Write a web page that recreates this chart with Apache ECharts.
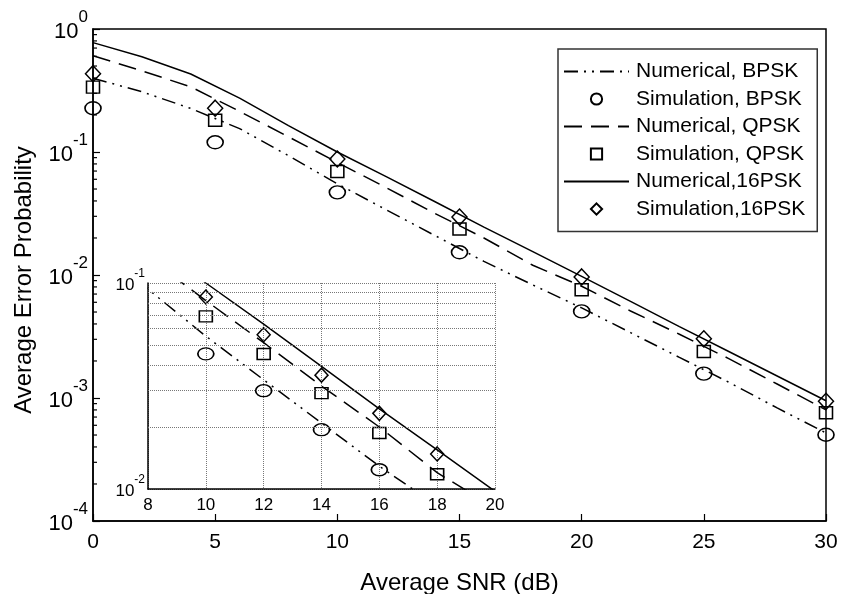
<!DOCTYPE html>
<html><head><meta charset="utf-8">
<script src="https://cdn.jsdelivr.net/npm/echarts@6/dist/echarts.min.js"></script>
<style>html,body{margin:0;padding:0;background:#fff}#c{width:843px;height:594px}</style>
</head><body><div id="c"></div>
<script>
// ---- data ----
const snrLine = [0, 2, 4, 6, 8, 10, 12, 14, 16, 18, 20, 22, 24, 26, 28, 30];
const numBPSK  = [0.398, 0.309, 0.226, 0.155, 0.0933, 0.0552, 0.0339, 0.0209, 0.0129, 0.0083, 0.0054, 0.0034, 0.00214, 0.00135, 0.00083, 0.00052];
const numQPSK  = [0.607, 0.457, 0.339, 0.214, 0.133, 0.0822, 0.0513, 0.0316, 0.0200, 0.0120, 0.0081, 0.0051, 0.0033, 0.0021, 0.0013, 0.0008];
const num16PSK = [0.775, 0.594, 0.431, 0.274, 0.164, 0.100, 0.0631, 0.0394, 0.0245, 0.0155, 0.00975, 0.0061, 0.0038, 0.0024, 0.00151, 0.00095];

const snrSim   = [0, 5, 10, 15, 20, 25, 30];
const simBPSK  = [0.227, 0.120, 0.047, 0.0153, 0.00506, 0.00158, 0.000503];
const simQPSK  = [0.337, 0.181, 0.0695, 0.0237, 0.0076, 0.00239, 0.00076];
const sim16PSK = [0.433, 0.227, 0.0877, 0.0296, 0.00964, 0.00303, 0.00094];

const snrInset    = [10, 12, 14, 16, 18];
const insetBPSK   = [0.0453, 0.0300, 0.0194, 0.0124];
const insetQPSK   = [0.0689, 0.0452, 0.0292, 0.0187, 0.0118];
const inset16PSK  = [0.0855, 0.0561, 0.0357, 0.0233, 0.0148];

const seriesNames = ['Numerical, BPSK', 'Simulation, BPSK', 'Numerical, QPSK', 'Simulation, QPSK', 'Numerical,16PSK', 'Simulation,16PSK'];
const insetMinorGrid = [0.02, 0.03, 0.04, 0.05, 0.06, 0.07, 0.08, 0.09];

// ---- helpers ----
const FONT = 'Liberation Sans, Arial, sans-serif';
const zip = (xs, ys) => ys.map((y, i) => [xs[i], y]);
const minorTicks = [];
[1e-4, 1e-3, 1e-2, 1e-1].forEach(d => { for (let k = 2; k <= 9; k++) minorTicks.push(+(d * k).toPrecision(3)); });
const ELLIPSE = 'path://M0,50A50,50,0,1,1,100,50A50,50,0,1,1,0,50Z';
const dashDotDot = [14, 6, 2, 6, 2, 6];
const dashed = [18, 9];
const expLabel = v => '{b|10}{s|' + Math.round(Math.log10(v)) + '}';
const hollow = {color: 'rgba(0,0,0,0)', borderColor: '#000', borderWidth: 1.5};
const noLine = {width: 0, opacity: 0};

function lineSeries(name, data, type, xi) {
  return {name, type: 'line', data, xAxisIndex: xi, yAxisIndex: xi, symbol: 'none', showSymbol: false,
    lineStyle: {color: '#000', width: 1.5, type}, itemStyle: {color: 'rgba(0,0,0,0)', borderWidth: 0, opacity: 0}, z: 3, clip: true};
}
function simSeries(name, data, symbol, size, xi) {
  return {name, type: 'line', data, xAxisIndex: xi, yAxisIndex: xi, symbol, symbolSize: size,
    showSymbol: true, lineStyle: noLine, itemStyle: hollow, z: 4, clip: true};
}

const chart = echarts.init(document.getElementById('c'), null, {renderer: 'canvas'});
chart.setOption({
  animation: false,
  backgroundColor: '#fff',
  textStyle: {fontFamily: FONT, color: '#000'},
  grid: [
    {left: 93, top: 29, width: 733, height: 492, show: true, borderColor: '#000', borderWidth: 1.5, backgroundColor: '#fff', outerBoundsMode: 'none', containLabel: false},
    {left: 148, top: 283, width: 347, height: 206, show: true, borderWidth: 0, backgroundColor: '#fff', outerBoundsMode: 'none', containLabel: false}
  ],
  xAxis: [
    {type: 'value', gridIndex: 0, min: 0, max: 30, interval: 5,
      name: 'Average SNR (dB)', nameLocation: 'middle', nameGap: 50,
      nameTextStyle: {fontSize: 24, fontFamily: FONT, color: '#000'},
      axisLine: {lineStyle: {color: '#000', width: 1.5}},
      axisTick: {inside: true, length: 7, lineStyle: {color: '#000', width: 1.2}},
      axisLabel: {fontSize: 21, color: '#000', margin: 11, fontFamily: FONT},
      splitLine: {show: false}},
    {type: 'value', gridIndex: 1, min: 8, max: 20, interval: 2,
      axisLine: {lineStyle: {color: '#000', width: 1.5}},
      axisTick: {show: false},
      axisLabel: {fontSize: 17, color: '#000', margin: 8, fontFamily: FONT},
      splitLine: {show: true, lineStyle: {color: '#777', width: 1, type: [1, 1]}}}
  ],
  yAxis: [
    {type: 'log', logBase: 10, gridIndex: 0, min: 1e-4, max: 1,
      name: 'Average Error Probability', nameLocation: 'middle', nameGap: 57,
      nameTextStyle: {fontSize: 24, fontFamily: FONT, color: '#000', padding: [0, 10, 0, 0]},
      axisLine: {lineStyle: {color: '#000', width: 1.5}},
      axisTick: {inside: true, length: 7, lineStyle: {color: '#000', width: 1.2}},
      axisLabel: {margin: 5, formatter: expLabel, rich: {
        b: {fontSize: 22, fontFamily: FONT, color: '#000', lineHeight: 40, verticalAlign: 'middle', padding: [6, 0, 0, 0]},
        s: {fontSize: 17, fontFamily: FONT, color: '#000', lineHeight: 40, verticalAlign: 'top'}}},
      splitLine: {show: false}},
    {type: 'log', logBase: 10, gridIndex: 1, min: 0.01, max: 0.1,
      axisLine: {lineStyle: {color: '#000', width: 1.5}},
      axisTick: {show: false},
      axisLabel: {margin: 3, formatter: expLabel, rich: {
        b: {fontSize: 17, fontFamily: FONT, color: '#000', lineHeight: 30, verticalAlign: 'middle', padding: [4, 0, 0, 0]},
        s: {fontSize: 12, fontFamily: FONT, color: '#000', lineHeight: 30, verticalAlign: 'top'}}},
      splitLine: {show: true, lineStyle: {color: '#777', width: 1, type: [1, 1]}}}
  ],
  legend: {
    orient: 'vertical', left: 558, top: 49,
    data: seriesNames,
    itemWidth: 65, itemHeight: 14, itemGap: 6.5,
    padding: [12, 12, 12, 5],
    borderColor: '#333', borderWidth: 1.5, backgroundColor: '#fff',
    textStyle: {fontSize: 21, fontFamily: FONT, color: '#000', padding: [0, 0, 0, 2]},
    selectedMode: false
  },
  series: [
    lineSeries(seriesNames[0], zip(snrLine, numBPSK), dashDotDot, 0),
    simSeries(seriesNames[1], zip(snrSim, simBPSK), ELLIPSE, [16, 13], 0),
    lineSeries(seriesNames[2], zip(snrLine, numQPSK), dashed, 0),
    simSeries(seriesNames[3], zip(snrSim, simQPSK), 'rect', [13, 12], 0),
    lineSeries(seriesNames[4], zip(snrLine, num16PSK), 'solid', 0),
    simSeries(seriesNames[5], zip(snrSim, sim16PSK), 'diamond', [15, 16], 0),
    // minor ticks on the main log axis
    {type: 'custom', xAxisIndex: 0, yAxisIndex: 0, silent: true, clip: false, z: 5,
      data: minorTicks.map(v => [0, v]),
      renderItem: (params, api) => {
        const p = api.coord([api.value(0), api.value(1)]);
        return {type: 'line', shape: {x1: p[0], y1: p[1], x2: p[0] + 4, y2: p[1]}, style: {stroke: '#000', lineWidth: 1.2}};
      }},
    // inset
    Object.assign(lineSeries(seriesNames[0], zip(snrLine, numBPSK), dashDotDot, 1), {
      markLine: {silent: true, symbol: ['none', 'none'], label: {show: false},
        lineStyle: {color: '#777', width: 1, type: [1, 1]},
        data: insetMinorGrid.map(v => ({yAxis: v}))}}),
    simSeries(seriesNames[1], zip(snrInset, insetBPSK), ELLIPSE, [16, 12], 1),
    lineSeries(seriesNames[2], zip(snrLine, numQPSK), dashed, 1),
    simSeries(seriesNames[3], zip(snrInset, insetQPSK), 'rect', [13, 11], 1),
    lineSeries(seriesNames[4], zip(snrLine, num16PSK), 'solid', 1),
    simSeries(seriesNames[5], zip(snrInset, inset16PSK), 'diamond', [13, 14], 1)
  ]
});
</script></body></html>
